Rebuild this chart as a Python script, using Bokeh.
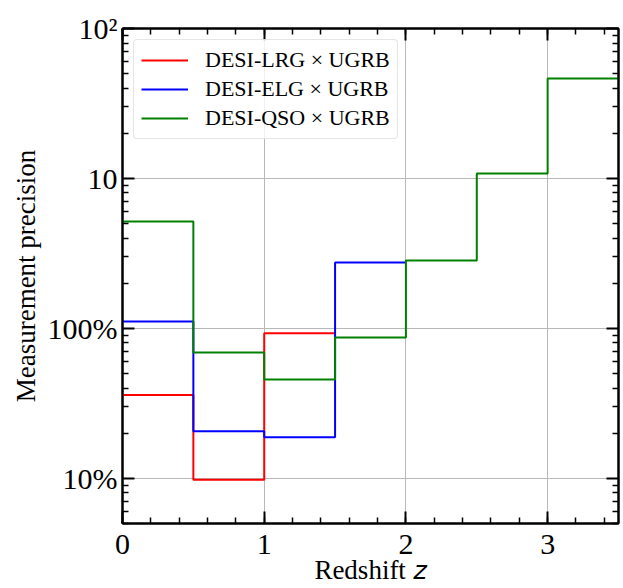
from bokeh.plotting import figure
from bokeh.models import Range1d, LinearAxis, LogAxis, FixedTicker, Legend
from bokeh.embed import file_html
from bokeh.resources import INLINE

# ---- data ----
bin_edges = [0, 0.5, 1, 1.5, 2, 2.5, 3, 3.5]
lrg_precision = [0.36, 0.098, 0.93]
elg_precision = [1.11, 0.206, 0.188, 2.75]
qso_precision = [5.17, 0.69, 0.457, 0.87, 2.84, 10.8, 46.4]
series_names = ["DESI-LRG × UGRB", "DESI-ELG × UGRB", "DESI-QSO × UGRB"]
series_colors = ["red", "blue", "green"]
x_ticks = [0, 1, 2, 3]
y_ticks = [0.1, 1, 10, 100]
y_tick_labels = ["10%", "100%", "10", "10²"]

FONT = "Liberation Serif"

p = figure(width=623, height=588, x_axis_type="linear", y_axis_type="log",
           x_range=Range1d(0, 3.5), y_range=Range1d(0.05, 100),
           output_backend="svg", toolbar_location=None,
           min_border_left=122, min_border_top=28, min_border_right=5, min_border_bottom=65)
p.background_fill_color = "white"
p.border_fill_color = "white"
p.outline_line_color = "black"
p.outline_line_width = 2

xticker = FixedTicker(ticks=x_ticks, minor_ticks=[i * 0.2 for i in range(0, 18)])
yminor = []
for dec in [0.01, 0.1, 1, 10]:
    for k in range(2, 10):
        v = dec * k
        if 0.05 <= v <= 100:
            yminor.append(v)
yticker = FixedTicker(ticks=y_ticks, minor_ticks=yminor)

def style_axis(ax, labels=True):
    ax.axis_line_color = "black"
    ax.axis_line_width = 2
    ax.major_tick_in = 12
    ax.major_tick_out = 0
    ax.minor_tick_in = 6
    ax.minor_tick_out = 0
    ax.major_tick_line_width = 2
    ax.minor_tick_line_width = 1.5
    ax.major_tick_line_color = "black"
    ax.minor_tick_line_color = "black"
    ax.major_label_text_font = FONT
    if labels:
        ax.major_label_text_font_size = "30px"
        ax.major_label_text_color = "black"
    else:
        ax.major_label_text_font_size = "1px"
        ax.major_label_text_alpha = 0
        ax.major_label_standoff = 0
    ax.axis_label_text_font = FONT
    ax.axis_label_text_font_size = "27px"
    ax.axis_label_text_font_style = "normal"
    ax.axis_label_text_color = "black"

xa = p.xaxis[0]
xa.ticker = xticker
style_axis(xa)
xa.major_label_standoff = 11
xa.axis_label = "Redshift 𝑧"
xa.axis_label_standoff = -2

ya = p.yaxis[0]
ya.ticker = yticker
style_axis(ya)
ya.major_label_overrides = {t: l for t, l in zip(y_ticks, y_tick_labels)}
ya.major_label_standoff = 5
ya.axis_label = "Measurement precision"
ya.axis_label_standoff = 4

top = LinearAxis(ticker=xticker)
style_axis(top, labels=False)
p.add_layout(top, "above")

right = LogAxis(ticker=yticker)
style_axis(right, labels=False)
p.add_layout(right, "right")

p.xgrid[0].ticker = xticker
p.ygrid[0].ticker = yticker
p.xgrid.grid_line_color = "#b8b8b8"
p.ygrid.grid_line_color = "#b8b8b8"
p.xgrid.grid_line_width = 1
p.ygrid.grid_line_width = 1

items = []
for name, color, vals in zip(series_names, series_colors,
                             [lrg_precision, elg_precision, qso_precision]):
    xs = bin_edges[:len(vals) + 1]
    ys = list(vals) + [vals[-1]]
    r = p.step(x=xs, y=ys, mode="after", line_color=color, line_width=2)
    items.append((name, [r]))

legend = Legend(items=items, location="top_left")
legend.label_text_font = FONT
legend.label_text_font_size = "22px"
legend.label_text_color = "black"
legend.glyph_width = 47
legend.glyph_height = 20
legend.label_standoff = 17
legend.spacing = 3
legend.padding = 7
legend.margin = 11
legend.border_line_color = "#cccccc"
legend.border_line_width = 1
legend.background_fill_alpha = 0.8
try:
    legend.border_radius = 4
except Exception:
    pass
p.add_layout(legend, "center")

open("out.html", "w").write(file_html(p, INLINE))
